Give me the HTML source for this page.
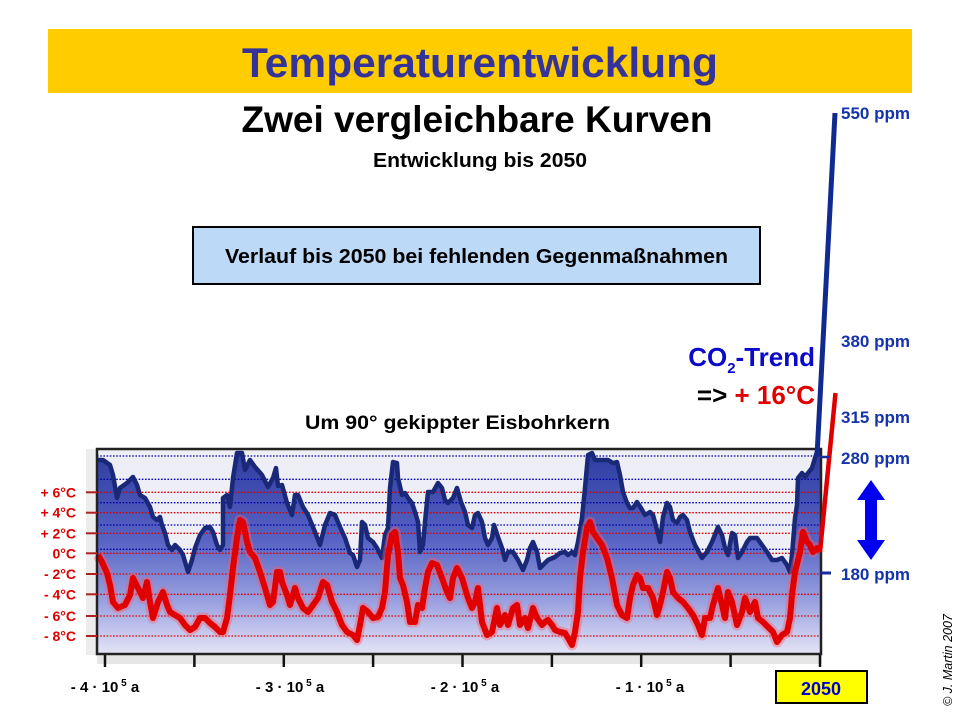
<!DOCTYPE html>
<html><head><meta charset="utf-8"><style>
html,body{margin:0;padding:0;background:#fff;}
svg{display:block;}
text{font-family:"Liberation Sans",Arial,sans-serif;}
</style></head><body>
<svg width="960" height="720" viewBox="0 0 960 720" xmlns="http://www.w3.org/2000/svg">
<defs>
<linearGradient id="fg" x1="0" y1="449" x2="0" y2="654" gradientUnits="userSpaceOnUse">
<stop offset="0" stop-color="#2c3aa0"/>
<stop offset="0.45" stop-color="#5864c4"/>
<stop offset="0.75" stop-color="#9ca2e0"/>
<stop offset="1" stop-color="#e4e4f6"/>
</linearGradient>
</defs>
<rect width="960" height="720" fill="#fff"/>
<!-- title bar -->
<rect x="48" y="29" width="864" height="64" fill="#ffcc00"/>
<text x="480" y="77" text-anchor="middle" font-size="42" font-weight="bold" fill="#333399" textLength="476" lengthAdjust="spacingAndGlyphs">Temperaturentwicklung</text>
<text x="477" y="132" text-anchor="middle" font-size="37" font-weight="bold" fill="#000" textLength="471" lengthAdjust="spacingAndGlyphs">Zwei vergleichbare Kurven</text>
<text x="480" y="167" text-anchor="middle" font-size="20" font-weight="bold" fill="#000" textLength="214" lengthAdjust="spacingAndGlyphs">Entwicklung bis 2050</text>
<!-- box -->
<rect x="193" y="227" width="567" height="57" fill="#bcd9f8" stroke="#000" stroke-width="2"/>
<text x="476.5" y="263" text-anchor="middle" font-size="20" font-weight="bold" fill="#000" textLength="503" lengthAdjust="spacingAndGlyphs">Verlauf bis 2050 bei fehlenden Gegenmaßnahmen</text>
<text x="457.5" y="429" text-anchor="middle" font-size="19" font-weight="bold" fill="#000" textLength="305" lengthAdjust="spacingAndGlyphs">Um 90° gekippter Eisbohrkern</text>
<!-- CO2 trend -->
<text x="815" y="366" text-anchor="end" font-size="26" font-weight="bold" fill="#0a0ac8">CO<tspan font-size="15" dy="7">2</tspan><tspan dy="-7">-Trend</tspan></text>
<text x="815" y="404" text-anchor="end" font-size="26" font-weight="bold" fill="#000">=&gt; <tspan fill="#e00000">+ 16°C</tspan></text>
<!-- ppm labels -->
<g font-size="17" font-weight="bold" fill="#1533aa">
<text x="841" y="119">550 ppm</text>
<text x="841" y="347">380 ppm</text>
<text x="841" y="423">315 ppm</text>
<text x="841" y="464">280 ppm</text>
<text x="841" y="580">180 ppm</text>
</g>
<!-- arrow -->
<polygon points="871,480 885,500 877,500 877,540 885,540 871,560 857,540 865,540 865,500 857,500" fill="#0000ee"/>
<!-- left strip & ticks -->
<rect x="86" y="449" width="11" height="206" fill="#ececec"/>
<rect x="97" y="655" width="725" height="9" fill="#e6e6e6"/>
<!-- chart background -->
<rect x="97" y="449" width="724" height="205" fill="#eeeef6"/>
<polygon fill="url(#fg)" points="98,654 98,460 103,460 110,465 113,475 117,498 120,488 127,483 133,477 137,485 140,495 145,498 150,507 153,517 157,520 160,517 162,525 165,533 168,545 172,550 175,545 180,550 183,555 188,572 192,560 195,548 200,535 205,528 210,527 213,532 217,545 220,550 223,545 223,498 227,495 230,507 233,478 237,453 242,453 245,470 250,460 255,467 262,475 268,487 273,478 276,468 278,486 282,485 287,503 292,515 295,495 298,495 303,507 308,515 315,532 320,545 325,525 330,513 335,515 340,527 345,538 350,553 353,555 357,567 360,560 362,522 365,525 368,538 373,542 377,548 382,558 385,535 388,528 390,488 393,462 397,463 398,478 402,495 405,493 408,498 412,503 415,512 418,522 420,552 423,545 425,522 428,492 433,492 438,483 442,488 445,500 448,503 453,498 457,488 461,502 465,512 468,525 472,528 475,515 478,513 482,522 485,538 488,545 492,538 494,525 498,537 502,548 505,560 508,552 513,552 518,560 523,570 527,560 530,548 533,542 537,552 540,568 543,565 548,560 555,557 560,553 565,552 568,555 572,552 575,555 578,542 582,518 585,488 588,455 592,453 595,460 602,460 608,460 613,463 617,462 620,475 623,492 627,503 630,508 633,508 637,502 641,508 645,515 650,512 653,515 657,530 660,542 663,517 667,503 670,507 673,520 677,523 680,517 683,515 687,520 690,532 695,545 702,558 707,552 712,542 718,527 722,535 725,548 728,555 732,533 735,535 738,558 742,552 747,542 750,538 757,538 762,545 767,552 772,560 777,560 782,558 787,565 790,572 792,555 795,518 797,505 798,478 802,473 805,477 808,473 812,468 815,458 818,449 820,449 820,654"/>
<!-- gridlines -->
<g stroke-width="1.3" stroke-dasharray="1.6 1.6" fill="none">
<g stroke="#0000aa">
<line x1="97" y1="456" x2="820" y2="456"/>
<line x1="97" y1="479.3" x2="820" y2="479.3"/>
<line x1="97" y1="502.7" x2="820" y2="502.7"/>
<line x1="97" y1="525" x2="820" y2="525"/>
<line x1="97" y1="549.3" x2="820" y2="549.3"/>
</g>
<g stroke="#dd0000">
<line x1="97" y1="492.3" x2="820" y2="492.3"/>
<line x1="97" y1="512.7" x2="820" y2="512.7"/>
<line x1="97" y1="533.3" x2="820" y2="533.3"/>
<line x1="97" y1="553.3" x2="820" y2="553.3"/>
<line x1="97" y1="574" x2="820" y2="574"/>
<line x1="97" y1="594.3" x2="820" y2="594.3"/>
<line x1="97" y1="616" x2="820" y2="616"/>
<line x1="97" y1="636" x2="820" y2="636"/>
</g>
</g>
<!-- blue curve -->
<polyline fill="none" stroke="#1a2878" stroke-width="4.5" stroke-linejoin="round" points="98,460 103,460 110,465 113,475 117,498 120,488 127,483 133,477 137,485 140,495 145,498 150,507 153,517 157,520 160,517 162,525 165,533 168,545 172,550 175,545 180,550 183,555 188,572 192,560 195,548 200,535 205,528 210,527 213,532 217,545 220,550 223,545 223,498 227,495 230,507 233,478 237,453 242,453 245,470 250,460 255,467 262,475 268,487 273,478 276,468 278,486 282,485 287,503 292,515 295,495 298,495 303,507 308,515 315,532 320,545 325,525 330,513 335,515 340,527 345,538 350,553 353,555 357,567 360,560 362,522 365,525 368,538 373,542 377,548 382,558 385,535 388,528 390,488 393,462 397,463 398,478 402,495 405,493 408,498 412,503 415,512 418,522 420,552 423,545 425,522 428,492 433,492 438,483 442,488 445,500 448,503 453,498 457,488 461,502 465,512 468,525 472,528 475,515 478,513 482,522 485,538 488,545 492,538 494,525 498,537 502,548 505,560 508,552 513,552 518,560 523,570 527,560 530,548 533,542 537,552 540,568 543,565 548,560 555,557 560,553 565,552 568,555 572,552 575,555 578,542 582,518 585,488 588,455 592,453 595,460 602,460 608,460 613,463 617,462 620,475 623,492 627,503 630,508 633,508 637,502 641,508 645,515 650,512 653,515 657,530 660,542 663,517 667,503 670,507 673,520 677,523 680,517 683,515 687,520 690,532 695,545 702,558 707,552 712,542 718,527 722,535 725,548 728,555 732,533 735,535 738,558 742,552 747,542 750,538 757,538 762,545 767,552 772,560 777,560 782,558 787,565 790,572 792,555 795,518 797,505 798,478 802,473 805,477 808,473 812,468 815,458 818,449"/>
<!-- red curve -->
<g fill="none" stroke-linejoin="round">
<polyline stroke="#ff5a6a" stroke-opacity="0.4" stroke-width="11" points="98,555 102,562 107,573 110,585 113,602 118,608 125,605 130,595 133,578 138,588 143,598 147,582 150,602 153,618 158,602 163,592 167,605 170,612 175,615 180,618 185,625 190,630 195,627 200,618 205,618 210,623 215,627 220,632 223,632 227,618 230,595 233,568 237,538 240,520 243,522 247,542 250,552 255,558 260,572 265,588 270,605 273,602 277,572 280,572 282,582 287,595 290,605 295,588 298,598 303,608 308,612 313,605 318,598 323,582 327,585 332,602 337,612 342,625 347,632 353,635 357,640 360,625 363,608 368,612 373,618 378,617 382,608 385,592 388,555 392,535 395,532 398,552 400,578 403,585 407,602 410,622 415,622 418,605 422,608 425,588 428,572 432,563 437,565 442,578 447,592 450,598 453,578 457,568 462,578 465,588 468,598 472,608 475,602 478,588 482,622 487,635 492,632 497,608 500,625 505,615 508,625 513,608 517,605 520,625 525,618 528,628 533,608 537,618 542,625 545,622 548,620 552,625 555,630 560,632 565,633 568,638 572,645 575,632 578,612 580,578 583,552 587,528 590,522 593,532 597,538 602,545 607,558 612,578 617,605 622,615 627,618 630,598 633,585 637,575 640,578 643,588 648,588 653,598 657,615 660,605 663,592 667,572 670,578 673,592 678,598 683,602 688,608 693,615 698,625 702,635 705,618 710,618 713,605 718,588 722,605 725,618 728,592 732,602 737,625 742,612 745,598 750,612 755,602 758,618 763,622 768,627 773,632 777,642 782,635 787,632 790,618 792,595 795,572 800,552 803,532 807,542 810,545 813,552 817,548 820,551"/>
<polyline stroke="#e00000" stroke-width="6" points="98,555 102,562 107,573 110,585 113,602 118,608 125,605 130,595 133,578 138,588 143,598 147,582 150,602 153,618 158,602 163,592 167,605 170,612 175,615 180,618 185,625 190,630 195,627 200,618 205,618 210,623 215,627 220,632 223,632 227,618 230,595 233,568 237,538 240,520 243,522 247,542 250,552 255,558 260,572 265,588 270,605 273,602 277,572 280,572 282,582 287,595 290,605 295,588 298,598 303,608 308,612 313,605 318,598 323,582 327,585 332,602 337,612 342,625 347,632 353,635 357,640 360,625 363,608 368,612 373,618 378,617 382,608 385,592 388,555 392,535 395,532 398,552 400,578 403,585 407,602 410,622 415,622 418,605 422,608 425,588 428,572 432,563 437,565 442,578 447,592 450,598 453,578 457,568 462,578 465,588 468,598 472,608 475,602 478,588 482,622 487,635 492,632 497,608 500,625 505,615 508,625 513,608 517,605 520,625 525,618 528,628 533,608 537,618 542,625 545,622 548,620 552,625 555,630 560,632 565,633 568,638 572,645 575,632 578,612 580,578 583,552 587,528 590,522 593,532 597,538 602,545 607,558 612,578 617,605 622,615 627,618 630,598 633,585 637,575 640,578 643,588 648,588 653,598 657,615 660,605 663,592 667,572 670,578 673,592 678,598 683,602 688,608 693,615 698,625 702,635 705,618 710,618 713,605 718,588 722,605 725,618 728,592 732,602 737,625 742,612 745,598 750,612 755,602 758,618 763,622 768,627 773,632 777,642 782,635 787,632 790,618 792,595 795,572 800,552 803,532 807,542 810,545 813,552 817,548 820,551"/>
</g>
<!-- frame -->
<rect x="97" y="449" width="724" height="205" fill="none" stroke="#222" stroke-width="2.5"/>
<!-- bottom ticks -->
<g stroke="#111" stroke-width="2.5">
<line x1="105" y1="655" x2="105" y2="667"/>
<line x1="194.4" y1="655" x2="194.4" y2="667"/>
<line x1="283.8" y1="655" x2="283.8" y2="667"/>
<line x1="373.1" y1="655" x2="373.1" y2="667"/>
<line x1="462.5" y1="655" x2="462.5" y2="667"/>
<line x1="551.9" y1="655" x2="551.9" y2="667"/>
<line x1="641.2" y1="655" x2="641.2" y2="667"/>
<line x1="730.6" y1="655" x2="730.6" y2="667"/>
<line x1="820" y1="655" x2="820" y2="667"/>
</g>
<!-- left red ticks -->
<g stroke="#b02020" stroke-width="2">
<line x1="86" y1="492.3" x2="97" y2="492.3"/>
<line x1="86" y1="512.7" x2="97" y2="512.7"/>
<line x1="86" y1="533.3" x2="97" y2="533.3"/>
<line x1="86" y1="553.3" x2="97" y2="553.3"/>
<line x1="86" y1="574" x2="97" y2="574"/>
<line x1="86" y1="594.3" x2="97" y2="594.3"/>
<line x1="86" y1="616" x2="97" y2="616"/>
<line x1="86" y1="636" x2="97" y2="636"/>
</g>
<g font-size="14" font-weight="bold" fill="#dd0000" text-anchor="end">
<text x="76" y="497.3">+ 6°C</text>
<text x="76" y="517.7">+ 4°C</text>
<text x="76" y="538.3">+ 2°C</text>
<text x="76" y="558.3">0°C</text>
<text x="76" y="579">- 2°C</text>
<text x="76" y="599.3">- 4°C</text>
<text x="76" y="621">- 6°C</text>
<text x="76" y="641">- 8°C</text>
</g>
<!-- extension lines -->
<line x1="817" y1="456" x2="835" y2="113" stroke="#102a90" stroke-width="5"/>
<line x1="820" y1="552" x2="835.5" y2="393" stroke="#dd0000" stroke-width="4.5"/>
<line x1="820" y1="573" x2="831" y2="573" stroke="#1a2a9a" stroke-width="3"/>
<line x1="820" y1="457" x2="829" y2="457" stroke="#1a2a9a" stroke-width="2.5"/>
<!-- x axis labels -->
<g font-size="15" font-weight="bold" fill="#000" text-anchor="middle">
<text x="105" y="692">- 4 · 10<tspan font-size="10" dy="-6"> 5</tspan><tspan dy="6"> a</tspan></text>
<text x="290" y="692">- 3 · 10<tspan font-size="10" dy="-6"> 5</tspan><tspan dy="6"> a</tspan></text>
<text x="465" y="692">- 2 · 10<tspan font-size="10" dy="-6"> 5</tspan><tspan dy="6"> a</tspan></text>
<text x="650" y="692">- 1 · 10<tspan font-size="10" dy="-6"> 5</tspan><tspan dy="6"> a</tspan></text>
</g>
<rect x="776" y="671" width="91" height="32" fill="#ffff00" stroke="#000" stroke-width="2"/>
<text x="821" y="695" text-anchor="middle" font-size="18" font-weight="bold" fill="#0000cc">2050</text>
<!-- copyright -->
<text transform="translate(952,706) rotate(-90)" font-size="12.5" font-style="italic" fill="#000">© J. Martin 2007</text>
</svg>
</body></html>
